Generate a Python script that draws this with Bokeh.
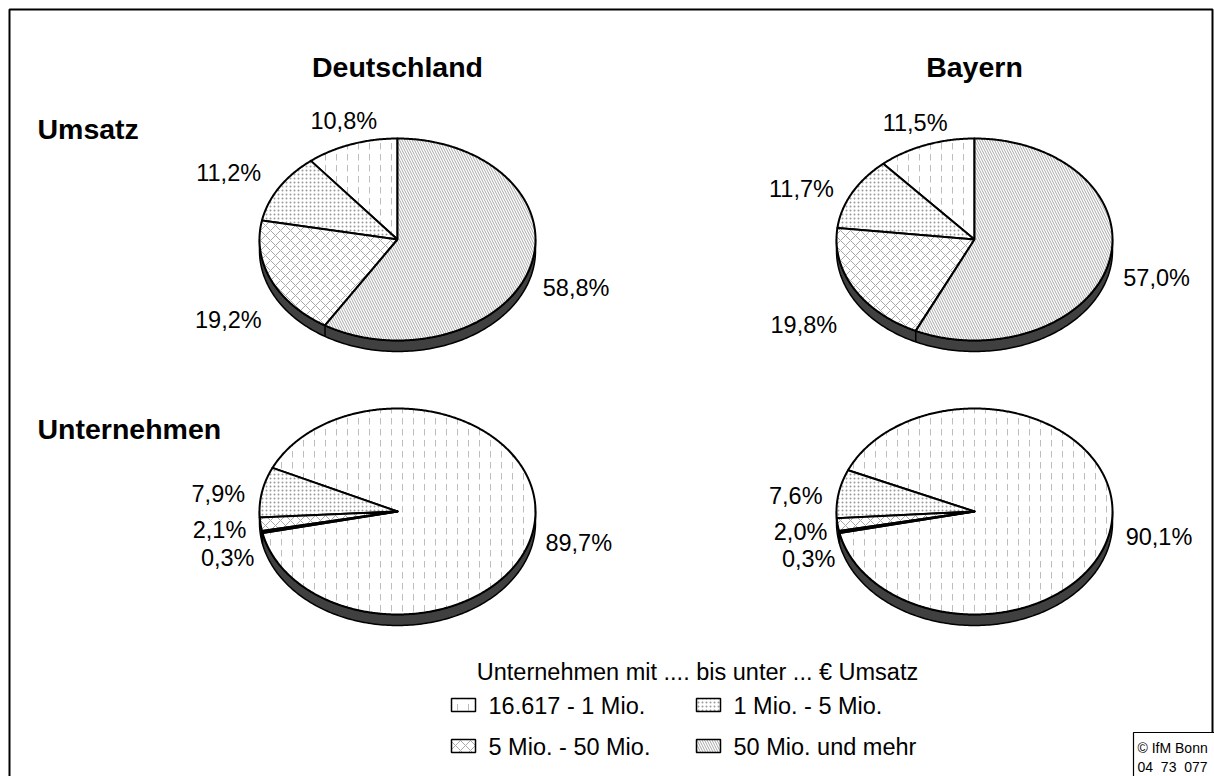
import numpy as np
from bokeh.plotting import figure
from bokeh.models import Range1d
from bokeh.core.properties import value
from bokeh.embed import file_html
from bokeh.resources import INLINE

# ---------------- data ----------------
categories = ["16.617 - 1 Mio.", "1 Mio. - 5 Mio.", "5 Mio. - 50 Mio.", "50 Mio. und mehr"]
umsatz_deutschland = [10.8, 11.2, 19.2, 58.8]
umsatz_bayern = [11.5, 11.7, 19.8, 57.0]
unternehmen_deutschland = [89.7, 7.9, 2.1, 0.3]
unternehmen_bayern = [90.1, 7.6, 2.0, 0.3]
region_titles = ["Deutschland", "Bayern"]
row_titles = ["Umsatz", "Unternehmen"]
legend_title = "Unternehmen mit .... bis unter ... € Umsatz"
copyright_lines = ["© IfM Bonn", "04\u00a0 73\u00a0 077"]

# ---------------- styles / layout ----------------
FONT = "Liberation Sans"
HATCH = [
    dict(hatch_pattern="vertical_dash", hatch_scale=11, hatch_color="#bdbdbd", hatch_weight=1),
    dict(hatch_pattern="dot", hatch_scale=4, hatch_color="#9a9a9a", hatch_weight=1),
    dict(hatch_pattern="diagonal_cross", hatch_scale=10, hatch_color="#a8a8a8", hatch_weight=1),
    dict(hatch_pattern="left_diagonal_line", hatch_scale=5, hatch_color="#a8a8a8", hatch_weight=1),
]
RX = 138
DEPTH = 11
COL_X = [397, 974]
ROW_Y = [239, 511]
ROW_RY = [101, 103]
ROW_START = [0.0, 258.0]   # clockwise angle from 12 o'clock where the last category starts
# label nudges (px) relative to a point at 1.3x radius on the slice mid-angle
NUDGE = {
    (0, 0): [(6, 5), (-15, 1), (-5, 28), (6, 13)],
    (0, 1): [(4, 6), (-14, 10), (-14, 22), (7, 10)],
    (1, 0): [(3, 16), (-3, 8), (0, 2), (6, 20)],
    (1, 1): [(6, 12), (-2, 8), (4, 3), (10, 21)],
}

W, H = 1214, 776
p = figure(width=W, height=H, x_range=Range1d(0, W), y_range=Range1d(H, 0),
           output_backend="svg", toolbar_location=None, min_border=0,
           x_axis_location=None, y_axis_location=None, tools="")
p.grid.visible = False
p.outline_line_color = None
p.background_fill_color = "white"
p.border_fill_color = "white"

# outer frame
p.quad(left=[9], right=[1212], top=[9], bottom=[790], fill_color=None,
       line_color="black", line_width=2)


def fmt(v):
    return f"{v:.1f}".replace(".", ",") + "%"


def draw_pie(vals, cx, cy, rx, ry, depth, start, nudges):
    # slices are laid clockwise from `start` in reverse category order
    bounds = {}
    ang = start
    for i in [3, 2, 1, 0]:
        span = vals[i] / 100.0 * 360.0
        bounds[i] = (ang, ang + span)
        ang += span
    # side wall (front half)
    t = np.radians(np.linspace(90, 270, 181))
    xt = cx + rx * np.sin(t)
    yt = cy - ry * np.cos(t)
    p.patch(np.concatenate([xt, xt[::-1]]), np.concatenate([yt, yt[::-1] + depth]),
            fill_color="#404040", line_color="black", line_width=1.5, line_join="round")
    # top face slices
    for i in range(4):
        a0, a1 = bounds[i]
        n = max(3, int((a1 - a0) * 2) + 2)
        tt = np.radians(np.linspace(a0, a1, n))
        xs = np.concatenate([[cx], cx + rx * np.sin(tt), [cx]])
        ys = np.concatenate([[cy], cy - ry * np.cos(tt), [cy]])
        p.patch(xs, ys, fill_color="white", line_color="black", line_width=2,
                line_join="round", **HATCH[i])
    # slice separators on the wall
    for i in range(4):
        a = bounds[i][0] % 360
        if 90 < a < 270:
            x = cx + rx * np.sin(np.radians(a))
            y = cy - ry * np.cos(np.radians(a))
            p.segment(x0=[x], y0=[y], x1=[x], y1=[y + depth], line_color="black", line_width=1.5)
    # labels
    lx, ly, lt = [], [], []
    for i in range(4):
        a0, a1 = bounds[i]
        m = np.radians((a0 + a1) / 2)
        lx.append(cx + 1.3 * rx * np.sin(m) + nudges[i][0])
        ly.append(cy - 1.3 * ry * np.cos(m) + nudges[i][1])
        lt.append(fmt(vals[i]))
    p.text(x=lx, y=ly, text=lt, text_font=value(FONT), text_font_size=value("23.5px"),
           text_align="center", text_baseline="middle", text_color="black")


pies = {
    (0, 0): umsatz_deutschland,
    (0, 1): umsatz_bayern,
    (1, 0): unternehmen_deutschland,
    (1, 1): unternehmen_bayern,
}
for (r, c), vals in pies.items():
    draw_pie(vals, COL_X[c], ROW_Y[r], RX, ROW_RY[r], DEPTH, ROW_START[r], NUDGE[(r, c)])

# titles
p.text(x=COL_X, y=[66, 66], text=region_titles, text_font=value(FONT), text_font_size=value("28.5px"),
       text_font_style="bold", text_align="center", text_baseline="middle", text_color="black")
p.text(x=[37, 37], y=[128, 428], text=row_titles, text_font=value(FONT), text_font_size=value("28.5px"),
       text_font_style="bold", text_align="left", text_baseline="middle", text_color="black")

# legend
p.text(x=[697], y=[671], text=[legend_title], text_font=value(FONT), text_font_size=value("23.5px"),
       text_align="center", text_baseline="middle", text_color="black")
leg_sw_left = [451, 696, 451, 696]
leg_row_y = [705, 705, 746, 746]
for i in range(4):
    p.quad(left=[leg_sw_left[i]], right=[leg_sw_left[i] + 24],
           top=[leg_row_y[i] - 7], bottom=[leg_row_y[i] + 6],
           fill_color="white", line_color="black", line_width=1.5, **HATCH[i])
p.text(x=[x + 37 for x in leg_sw_left], y=leg_row_y, text=categories, text_font=value(FONT),
       text_font_size=value("23.5px"), text_align="left", text_baseline="middle", text_color="black")

# copyright box
p.quad(left=[1133], right=[1230], top=[732], bottom=[790], fill_color="white",
       line_color="black", line_width=1.2)
p.text(x=[1137, 1137], y=[747, 766], text=copyright_lines, text_font=value(FONT),
       text_font_size=value("14px"), text_align="left", text_baseline="middle", text_color="black")

open("out.html", "w").write(file_html(p, INLINE))
